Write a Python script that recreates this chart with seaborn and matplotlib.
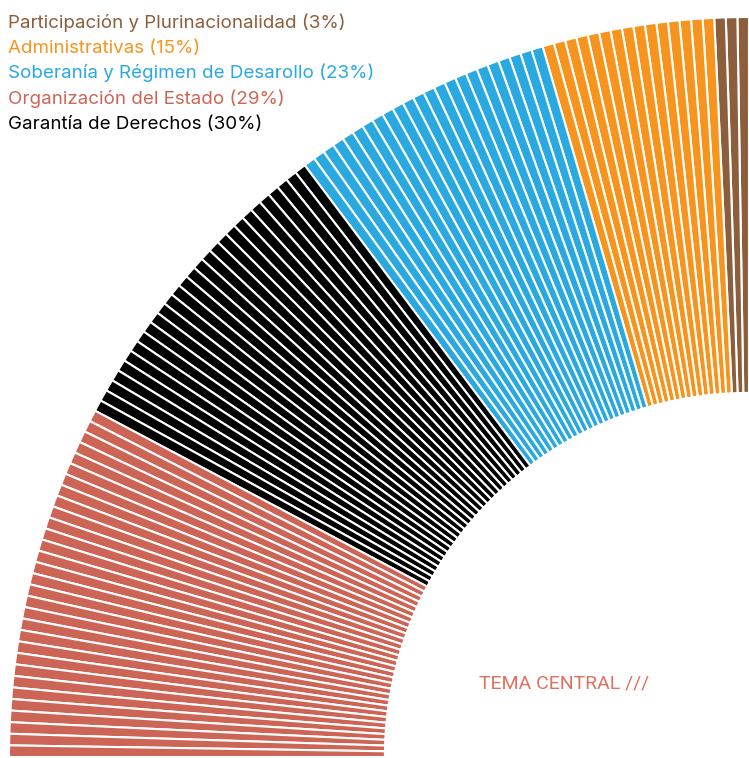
import numpy as np
import matplotlib
matplotlib.use('Agg')
import matplotlib.pyplot as plt
import seaborn as sns

sns.set_theme(style='white')
plt.rcParams['font.family'] = ['Inter', 'Liberation Sans', 'DejaVu Sans']

# categories in drawing order (from top, going counter-clockwise)
temas = ['Participación y Plurinacionalidad', 'Administrativas',
         'Soberanía y Régimen de Desarollo', 'Garantía de Derechos',
         'Organización del Estado']
# number of stripes counted per theme
articulos = [3, 15, 23, 28, 31]
colores = ['#8C5E3C', '#F7941E', '#29A9E0', '#000000', '#CD6556']

# legend order as printed
leyenda = ['Participación y Plurinacionalidad (3%)', 'Administrativas (15%)',
           'Soberanía y Régimen de Desarollo (23%)', 'Organización del Estado (29%)',
           'Garantía de Derechos (30%)']
leyenda_col = ['#8C5E3C', '#F7941E', '#29A9E0', '#CD6556', '#000000']

# one wedge per unit, plus an invisible filler for the remaining 3/4 of the circle
vals = []
cols = []
for n, c in zip(articulos, colores):
    vals += [1] * n
    cols += [c] * n
total = sum(vals)
vals.append(total * 3)
cols.append('none')

fig = plt.figure(figsize=(7.49, 7.58), dpi=100)
ax = fig.add_axes([0, 0, 1, 1])
wedges, _ = ax.pie(vals, colors=cols, startangle=90, counterclock=True,
                   radius=1.0,
                   wedgeprops=dict(width=0.508, edgecolor='white', linewidth=1.5))
wedges[-1].set_edgecolor('none')

R = 740.0
ax.set_aspect('auto')
ax.set_xlim(-749 / R, 0)
ax.set_ylim(-1 / R, 757 / R)
ax.axis('off')

# baselines of the legend lines (px from top)
y0 = 27.7
for i, (t, c) in enumerate(zip(leyenda, leyenda_col)):
    fig.text(8 / 749, 1 - (y0 + i * 25.3) / 758, t, color=c, fontsize=13.5,
             ha='left', va='baseline')

fig.text(479 / 749, 1 - 689 / 758, 'TEMA CENTRAL ///', color='#E0705F',
         fontsize=14, ha='left', va='baseline',
         family=['Roboto', 'Liberation Sans'], fontweight='normal')

fig.savefig('out.png', dpi=100)
